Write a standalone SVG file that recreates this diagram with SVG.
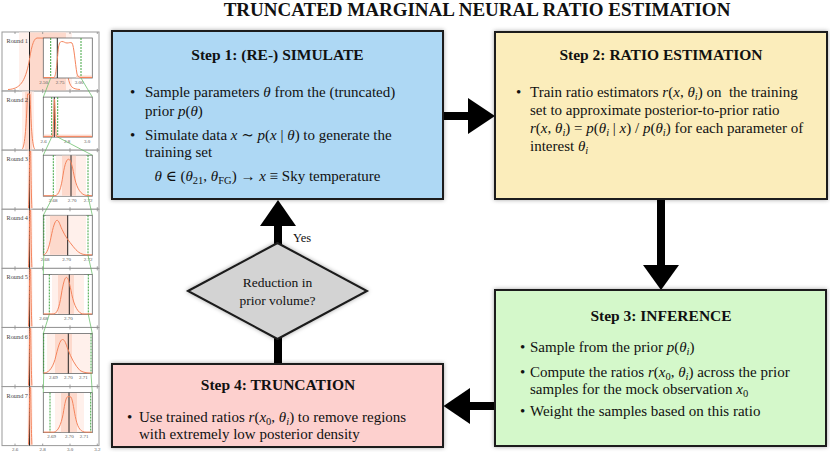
<svg xmlns="http://www.w3.org/2000/svg" width="830" height="453" viewBox="0 0 830 453">
<defs>
<filter id="sh" x="-5%" y="-5%" width="110%" height="110%"><feDropShadow dx="0" dy="0" stdDeviation="2" flood-color="#000" flood-opacity="0.35"/></filter>
<style>
.box{stroke:#1a1a1a;stroke-width:2;filter:url(#sh)}
.t{font-family:"Liberation Serif","DejaVu Serif",serif;font-size:15px;fill:#111}
.h{font-weight:bold;font-size:15.5px;text-anchor:middle}
.i{font-style:italic}
.s{font-size:10.5px}
.c{fill:#000}
.shaft{stroke:#000;stroke-width:8}
.pb{fill:#fff;stroke:#999;stroke-width:1}
.ib{fill:#fff;stroke:#666;stroke-width:0.8}
.tk{stroke:#888;stroke-width:0.8}
.tv{stroke:#222;stroke-width:1}
.oc{fill:none;stroke:#f5845c;stroke-width:1}
.gd{stroke:#2e9c2e;stroke-width:0.9;stroke-dasharray:2 1}
.gl{stroke:#5cb85c;stroke-width:0.7}
.l1{fill:#fff0eb}
.l2{fill:#fdd9cc}
.rl{font-family:"Liberation Serif",serif;font-size:6.3px;fill:#444}
.al{font-family:"Liberation Serif",serif;font-size:5px;fill:#555;text-anchor:middle}
</style>
<g id="ticks"><line class="tk" x1="15" y1="0" x2="15" y2="2"/><line class="tk" x1="42.7" y1="0" x2="42.7" y2="2"/><line class="tk" x1="70" y1="0" x2="70" y2="2"/><line class="tk" x1="97.3" y1="0" x2="97.3" y2="2"/><line class="tk" x1="15" y1="57" x2="15" y2="59"/><line class="tk" x1="42.7" y1="57" x2="42.7" y2="59"/><line class="tk" x1="70" y1="57" x2="70" y2="59"/><line class="tk" x1="97.3" y1="57" x2="97.3" y2="59"/></g>
</defs>
<rect width="830" height="453" fill="#fff"/>

<text class="t" x="477" y="16" style="font-size:19px;font-weight:bold;text-anchor:middle">TRUNCATED MARGINAL NEURAL RATIO ESTIMATION</text>

<g id="rounds">
<g transform="translate(0,32)">
<rect class="pb" x="2" y="0" width="97" height="59"/>
<rect class="l1" x="19" y="0.5" width="53" height="58"/><rect class="l2" x="30" y="0.5" width="36" height="58"/>
<use href="#ticks"/>
<line class="tv" x1="29.5" y1="0" x2="29.5" y2="59"/>
<path class="oc" d="M 8 57.5 C 20 57, 25 50, 29 30 C 31 18, 33 6.5, 37 6 L 62 6.5 C 66 8, 66 30, 68 45 C 70 55, 72 57, 80 57.5"/>
<text class="rl" x="6.5" y="11">Round 1</text>
<rect class="ib" x="43.3" y="6" width="49" height="40"/>
<rect class="l2" x="76" y="43.5" width="16" height="2.2"/>
<line class="gd" x1="50.7" y1="6" x2="50.7" y2="46"/><line class="gd" x1="81" y1="6" x2="81" y2="46"/>
<line class="tv" x1="57.3" y1="6" x2="57.3" y2="46"/>
<path class="oc" d="M 43.5 45.5 L 54 45.5 C 56 45, 57 30, 58.5 15 C 59.5 10, 60.5 9.5, 62 9.5 C 64 9.5, 65 11, 67 11 C 69 11, 70.5 10, 72 11 C 74 14, 75 30, 77 42 C 78 45, 79 45.5, 81 45.5 L 92 45.5"/>
<text class="al" x="43.5" y="52">2.50</text><text class="al" x="60" y="52">2.75</text><text class="al" x="79" y="52">3.00</text>
</g>

<g transform="translate(0,91.1)">
<rect class="pb" x="2" y="0" width="97" height="59"/>
<rect class="l1" x="22" y="0.5" width="12" height="58"/><rect class="l2" x="25" y="0.5" width="7" height="58"/>
<use href="#ticks"/>
<line class="tv" x1="29.5" y1="0" x2="29.5" y2="59"/>
<path class="oc" d="M 22 58 C 25 57, 26.5 30, 27.5 3 L 30 3 C 31 30, 32 57, 35 58"/>
<text class="rl" x="6.5" y="11">Round 2</text>
<rect class="ib" x="43.3" y="6" width="49" height="40"/>
<rect class="l2" x="43.8" y="43.5" width="48" height="2.2"/>
<line class="gd" x1="51.7" y1="6" x2="51.7" y2="46"/><line class="gd" x1="57.7" y1="6" x2="57.7" y2="46"/>
<line class="tv" x1="54.3" y1="6" x2="54.3" y2="46"/>
<path class="oc" d="M 43.5 45.5 L 52.5 45.5 C 53.5 45, 53.8 10, 54.5 8 C 55.2 10, 55.5 45, 56.5 45.5 L 92 45.5"/>
<text class="al" x="43.5" y="52">2.6</text><text class="al" x="67" y="52">2.8</text><text class="al" x="87" y="52">3.0</text>
</g>

<g transform="translate(0,150.2)">
<rect class="pb" x="2" y="0" width="97" height="59"/>
<rect class="l1" x="27.5" y="0.5" width="5" height="58"/><rect class="l2" x="28.7" y="0.5" width="2.8" height="58"/>
<use href="#ticks"/>
<line class="tv" x1="29.5" y1="0" x2="29.5" y2="59"/>
<path class="oc" d="M 28.5 58 C 29.3 40, 29.5 10, 29.8 1 L 30.6 1 C 30.9 10, 31.1 40, 31.9 58"/>
<text class="rl" x="6.5" y="11">Round 3</text>
<rect class="ib" x="43.3" y="5" width="49" height="41"/>
<rect class="l1" x="56" y="5.5" width="30" height="40"/><rect class="l2" x="62" y="5.5" width="14" height="40"/>
<line class="gd" x1="53.3" y1="5" x2="53.3" y2="46"/><line class="gd" x1="88" y1="5" x2="88" y2="46"/>
<line class="tv" x1="71" y1="5" x2="71" y2="46"/>
<path class="oc" d="M 43.5 45.5 L 55 45.5 C 59 45, 61 38, 63 25 C 65 12, 67 9, 68.5 9 C 70.5 9, 72 14, 74 25 C 76 35, 79 43, 85 45 L 92 45.5"/>
<text class="al" x="53" y="51.5">2.68</text><text class="al" x="72" y="51.5">2.70</text><text class="al" x="88" y="51.5">2.72</text>
</g>

<g transform="translate(0,209.3)">
<rect class="pb" x="2" y="0" width="97" height="59"/>
<rect class="l1" x="27.5" y="0.5" width="5" height="58"/><rect class="l2" x="28.7" y="0.5" width="2.8" height="58"/>
<use href="#ticks"/>
<line class="tv" x1="29.5" y1="0" x2="29.5" y2="59"/>
<path class="oc" d="M 28.5 58 C 29.3 40, 29.5 10, 29.8 1 L 30.6 1 C 30.9 10, 31.1 40, 31.9 58"/>
<text class="rl" x="6.5" y="11">Round 4</text>
<rect class="ib" x="43.3" y="6" width="49" height="40"/>
<rect class="l1" x="46" y="6.5" width="40" height="39"/><rect class="l2" x="50" y="6.5" width="18" height="39"/>
<line class="gd" x1="43.8" y1="6" x2="43.8" y2="46"/><line class="gd" x1="88" y1="6" x2="88" y2="46"/>
<line class="tv" x1="67.7" y1="6" x2="67.7" y2="46"/>
<path class="oc" d="M 43.5 45.5 C 47 45, 49 38, 51 28 C 53 18, 55 11, 57 11 C 59 11, 60 16, 62 20 C 65 27, 69 32, 73 37 C 77 42, 80 45, 86 45.5 L 92 45.5"/>
<text class="al" x="45" y="51.5">2.68</text><text class="al" x="66.7" y="51.5">2.70</text><text class="al" x="88" y="51.5">2.72</text>
</g>

<g transform="translate(0,268.4)">
<rect class="pb" x="2" y="0" width="97" height="59"/>
<rect class="l1" x="27.5" y="0.5" width="5" height="58"/><rect class="l2" x="28.7" y="0.5" width="2.8" height="58"/>
<use href="#ticks"/>
<line class="tv" x1="29.5" y1="0" x2="29.5" y2="59"/>
<path class="oc" d="M 28.5 58 C 29.3 40, 29.5 10, 29.8 1 L 30.6 1 C 30.9 10, 31.1 40, 31.9 58"/>
<text class="rl" x="6.5" y="11">Round 5</text>
<rect class="ib" x="43.3" y="6" width="49" height="40"/>
<rect class="l1" x="52" y="6.5" width="32" height="39"/><rect class="l2" x="58" y="6.5" width="16" height="39"/>
<line class="gd" x1="49.3" y1="6" x2="49.3" y2="46"/><line class="gd" x1="88.3" y1="6" x2="88.3" y2="46"/>
<line class="tv" x1="69.3" y1="6" x2="69.3" y2="46"/>
<path class="oc" d="M 43.5 45.5 L 54 45.5 C 58 45, 60 35, 62 22 C 64 12, 65 9, 66.5 9 C 68 9, 69 13, 71 22 C 73 33, 76 43, 82 45.5 L 92 45.5"/>
<text class="al" x="43.5" y="51.5">2.68</text><text class="al" x="68.3" y="51.5">2.70</text>
</g>

<g transform="translate(0,327.5)">
<rect class="pb" x="2" y="0" width="97" height="59"/>
<rect class="l1" x="27.5" y="0.5" width="5" height="58"/><rect class="l2" x="28.7" y="0.5" width="2.8" height="58"/>
<use href="#ticks"/>
<line class="tv" x1="29.5" y1="0" x2="29.5" y2="59"/>
<path class="oc" d="M 28.5 58 C 29.3 40, 29.5 10, 29.8 1 L 30.6 1 C 30.9 10, 31.1 40, 31.9 58"/>
<text class="rl" x="6.5" y="11">Round 6</text>
<rect class="ib" x="43.3" y="6" width="49" height="40"/>
<rect class="l1" x="47" y="6.5" width="43" height="39"/><rect class="l2" x="55" y="6.5" width="17" height="39"/>
<line class="gd" x1="43.7" y1="6" x2="43.7" y2="46"/><line class="gd" x1="91" y1="6" x2="91" y2="46"/>
<line class="tv" x1="68.3" y1="6" x2="68.3" y2="46"/>
<path class="oc" d="M 43.5 45.5 C 48 45.5, 52 42, 55 32 C 58 20, 60 12, 62.5 12 C 65 12, 66 17, 68 22 C 71 30, 75 38, 80 43 C 84 45.5, 88 45.5, 92 45.5"/>
<text class="al" x="53.3" y="51.5">2.69</text><text class="al" x="68.3" y="51.5">2.70</text><text class="al" x="83.3" y="51.5">2.71</text>
</g>

<g transform="translate(0,386.6)">
<rect class="pb" x="2" y="0" width="97" height="59"/>
<rect class="l1" x="27.5" y="0.5" width="5" height="58"/><rect class="l2" x="28.7" y="0.5" width="2.8" height="58"/>
<use href="#ticks"/>
<line class="tv" x1="29.5" y1="0" x2="29.5" y2="59"/>
<path class="oc" d="M 28.5 58 C 29.3 40, 29.5 10, 29.8 1 L 30.6 1 C 30.9 10, 31.1 40, 31.9 58"/>
<text class="rl" x="6.5" y="11">Round 7</text>
<rect class="ib" x="43.3" y="6" width="49" height="40"/>
<rect class="l1" x="55" y="6.5" width="29" height="39"/><rect class="l2" x="61" y="6.5" width="16" height="39"/>
<line class="gd" x1="50" y1="6" x2="50" y2="46"/><line class="gd" x1="90.7" y1="6" x2="90.7" y2="46"/>
<line class="tv" x1="69" y1="6" x2="69" y2="46"/>
<path class="oc" d="M 43.5 45.5 L 54 45.5 C 58 45, 61 38, 63 28 C 65 16, 66 10, 68 10 C 69 10, 70 10, 71 10.5 C 73 14, 74 25, 76 33 C 78 42, 81 45.5, 86 45.5 L 92 45.5"/>
<text class="al" x="51.7" y="51">2.69</text><text class="al" x="69.3" y="51">2.70</text><text class="al" x="84" y="51">2.71</text>
</g>

<line class="gl" x1="50.7" y1="78" x2="43.3" y2="97.1"/><line class="gl" x1="81" y1="78" x2="92.3" y2="97.1"/>
<line class="gl" x1="51.7" y1="137.1" x2="43.3" y2="155.2"/><line class="gl" x1="57.7" y1="137.1" x2="92.3" y2="155.2"/>
<line class="gl" x1="53.3" y1="196.2" x2="43.3" y2="215.3"/><line class="gl" x1="88" y1="196.2" x2="92.3" y2="215.3"/>
<line class="gl" x1="43.8" y1="255.3" x2="43.3" y2="274.4"/><line class="gl" x1="88" y1="255.3" x2="92.3" y2="274.4"/>
<line class="gl" x1="49.3" y1="314.4" x2="43.3" y2="333.5"/><line class="gl" x1="88.3" y1="314.4" x2="92.3" y2="333.5"/>
<line class="gl" x1="43.7" y1="373.5" x2="43.3" y2="392.6"/><line class="gl" x1="91" y1="373.5" x2="92.3" y2="392.6"/>

<text class="al" x="15" y="451">2.6</text><text class="al" x="42.7" y="451">2.8</text><text class="al" x="70" y="451">3.0</text><text class="al" x="97.3" y="451">3.2</text>
</g>

<g id="connectors">
<line class="shaft" x1="443" y1="116" x2="469" y2="116"/>
<polygon class="c" points="468,98 495,116 468,134"/>
<line class="shaft" x1="661" y1="199" x2="661" y2="266"/>
<polygon class="c" points="643,265 679,265 661,290"/>
<line class="shaft" x1="495" y1="406" x2="469" y2="406"/>
<polygon class="c" points="470,388 443.5,406 470,424"/>
<line class="shaft" x1="278" y1="364" x2="278" y2="338"/>
<line class="shaft" x1="278" y1="244" x2="278" y2="225"/>
<polygon class="c" points="260,226 296,226 278,200"/>
<text class="t" x="293" y="242" style="font-size:12.5px">Yes</text>
</g>

<g id="step1">
<rect class="box" x="112" y="31" width="331" height="168" fill="#aed8f4"/>
<text class="t h" x="277.5" y="60">Step 1: (RE-) SIMULATE</text>
<text class="t" x="130" y="97">•</text>
<text class="t" x="145" y="97">Sample parameters <tspan class="i">θ</tspan> from the (truncated)</text>
<text class="t" x="145" y="116">prior <tspan class="i">p</tspan>(<tspan class="i">θ</tspan>)</text>
<text class="t" x="130" y="140">•</text>
<text class="t" x="145" y="140">Simulate data <tspan class="i">x</tspan> ∼ <tspan class="i">p</tspan>(<tspan class="i">x</tspan> | <tspan class="i">θ</tspan>) to generate the</text>
<text class="t" x="145" y="157">training set</text>
<text class="t" x="267.5" y="181" style="text-anchor:middle"><tspan class="i">θ</tspan> ∈ (<tspan class="i">θ</tspan><tspan class="s" dy="3">21</tspan><tspan dy="-3">, </tspan><tspan class="i">θ</tspan><tspan class="s" dy="3">FG</tspan><tspan dy="-3">) → </tspan><tspan class="i">x</tspan> ≡ Sky temperature</text>
</g>

<g id="step2">
<rect class="box" x="495" y="32" width="332" height="167" fill="#fbedbb"/>
<text class="t h" x="661" y="60">Step 2: RATIO ESTIMATION</text>
<text class="t" x="516" y="97">•</text>
<text class="t" x="530" y="97" xml:space="preserve">Train ratio estimators <tspan class="i">r</tspan>(<tspan class="i">x</tspan>, <tspan class="i">θ</tspan><tspan class="s i" dy="3">i</tspan><tspan dy="-3">) on  the training</tspan></text>
<text class="t" x="530" y="115">set to approximate posterior-to-prior ratio</text>
<text class="t" x="530" y="133"><tspan class="i">r</tspan>(<tspan class="i">x</tspan>, <tspan class="i">θ</tspan><tspan class="s i" dy="3">i</tspan><tspan dy="-3">) = </tspan><tspan class="i">p</tspan>(<tspan class="i">θ</tspan><tspan class="s i" dy="3">i</tspan><tspan dy="-3"> | </tspan><tspan class="i">x</tspan>) / <tspan class="i">p</tspan>(<tspan class="i">θ</tspan><tspan class="s i" dy="3">i</tspan><tspan dy="-3">) for each parameter of</tspan></text>
<text class="t" x="530" y="151">interest <tspan class="i">θ</tspan><tspan class="s i" dy="3">i</tspan></text>
</g>

<g id="step3">
<rect class="box" x="495" y="290" width="331" height="156" fill="#d4f8ca"/>
<text class="t h" x="661" y="321">Step 3: INFERENCE</text>
<text class="t" x="520" y="352">•</text>
<text class="t" x="530" y="352">Sample from the prior <tspan class="i">p</tspan>(<tspan class="i">θ</tspan><tspan class="s i" dy="3">i</tspan><tspan dy="-3">)</tspan></text>
<text class="t" x="520" y="377">•</text>
<text class="t" x="530" y="377">Compute the ratios <tspan class="i">r</tspan>(<tspan class="i">x</tspan><tspan class="s" dy="3">0</tspan><tspan dy="-3">, </tspan><tspan class="i">θ</tspan><tspan class="s i" dy="3">i</tspan><tspan dy="-3">) across the prior</tspan></text>
<text class="t" x="530" y="394">samples for the mock observation <tspan class="i">x</tspan><tspan class="s" dy="3">0</tspan></text>
<text class="t" x="520" y="416">•</text>
<text class="t" x="530" y="416">Weight the samples based on this ratio</text>
</g>

<g id="step4">
<rect class="box" x="112" y="364" width="331" height="83" fill="#fdd0ce"/>
<text class="t h" x="278" y="390">Step 4: TRUNCATION</text>
<text class="t" x="127" y="422">•</text>
<text class="t" x="139" y="422">Use trained ratios <tspan class="i">r</tspan>(<tspan class="i">x</tspan><tspan class="s" dy="3">0</tspan><tspan dy="-3">, </tspan><tspan class="i">θ</tspan><tspan class="s i" dy="3">i</tspan><tspan dy="-3">) to remove regions</tspan></text>
<text class="t" x="139" y="439">with extremely low posterior density</text>
</g>

<g id="decision">
<polygon class="box" points="188,291 277.5,243 367,291 277.5,339" fill="#d3d3d3"/>
<text class="t" x="277.5" y="287" style="font-size:13.5px;text-anchor:middle">Reduction in</text>
<text class="t" x="277.5" y="305" style="font-size:13.5px;text-anchor:middle">prior volume?</text>
</g>
</svg>
